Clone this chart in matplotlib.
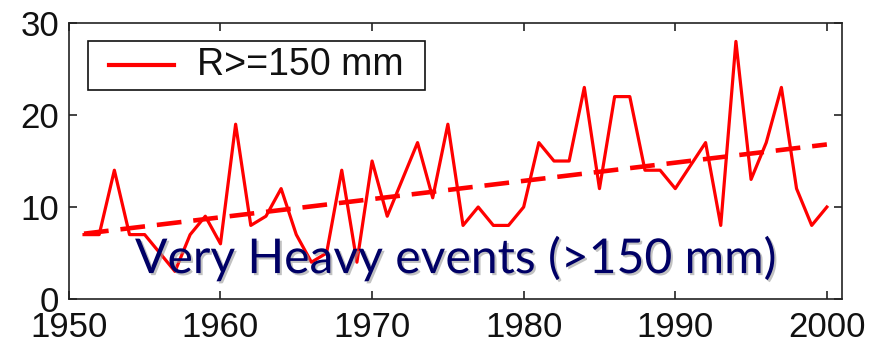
import matplotlib
matplotlib.use('Agg')
import matplotlib.pyplot as plt
import matplotlib.patheffects as pe
from matplotlib.lines import Line2D
from matplotlib.offsetbox import AnchoredOffsetbox, HPacker, DrawingArea, TextArea

# yearly counts of very heavy rain events
years = list(range(1951, 2001))
counts = [7, 7, 14, 7, 7, 5, 3, 7, 9, 6,
          19, 8, 9, 12, 7, 4, 5, 14, 4, 15,
          9, 13, 17, 11, 19, 8, 10, 8, 8, 10,
          17, 15, 15, 23, 12, 22, 22, 14, 14, 12,
          14.5, 17, 8, 28, 13, 17, 23, 12, 8, 10]

# linear trend end points
trend_years = [1951, 2000]
trend_vals = [7.1, 16.8]

legend_label = 'R>=150 mm'
overlay_text = 'Very Heavy events (>150 mm)'

plt.rcParams['font.family'] = ['Liberation Sans', 'DejaVu Sans']

fig = plt.figure(figsize=(8.83, 3.46), dpi=100)
ax = fig.add_axes([0.078, 0.1358, 0.8756, 0.7977])

ax.plot(years, counts, color='#ff0000', lw=2.3, label=legend_label)
ax.plot(trend_years, trend_vals, color='#ff0000', lw=3.3, dashes=(5.4, 2.6), solid_capstyle='butt')

ax.set_xlim(1950, 2001)
ax.set_ylim(0, 30)
ax.set_xticks([1950, 1960, 1970, 1980, 1990, 2000])
ax.set_yticks([0, 10, 20, 30])

ax.tick_params(direction='in', length=6, width=1.1, top=True, right=True,
               labelsize=25, colors='#111111')
ax.tick_params(axis='x', pad=8.5)
ax.tick_params(axis='y', pad=7)
for s in ax.spines.values():
    s.set_linewidth(1.2)
    s.set_color('#222222')

# legend box (built by hand to get the padding of the original)
pt = 72 / 100
box_h = 49 * pt
left_pad = DrawingArea(21 * pt, box_h)
handle = DrawingArea(65 * pt, box_h)
handle.add_artist(Line2D([0, 65 * pt], [box_h / 2, box_h / 2], color='#ff0000', lw=3))
gap = DrawingArea(23 * pt, box_h)
label = TextArea(legend_label, textprops=dict(fontsize=27, color='#111111'))
right_pad = DrawingArea(21 * pt, box_h)
packed = HPacker(children=[left_pad, handle, gap, label, right_pad], align='center', pad=0, sep=0)
leg = AnchoredOffsetbox(loc='upper left', child=packed, pad=0, borderpad=0, frameon=True,
                        bbox_to_anchor=(0.0246, 0.935), bbox_transform=ax.transAxes)
leg.patch.set_edgecolor('#111111')
leg.patch.set_linewidth(1.2)
leg.patch.set_boxstyle('square', pad=0)
ax.add_artist(leg)

t = ax.text(0.0855, 0.094, overlay_text, transform=ax.transAxes, fontsize=34.6,
            family='Lato', color='#000066', ha='left', va='baseline')
t.set_path_effects([pe.withSimplePatchShadow(offset=(1.5, -1.5), shadow_rgbFace='#999999', alpha=0.6)])

fig.savefig('out.png', dpi=100)
